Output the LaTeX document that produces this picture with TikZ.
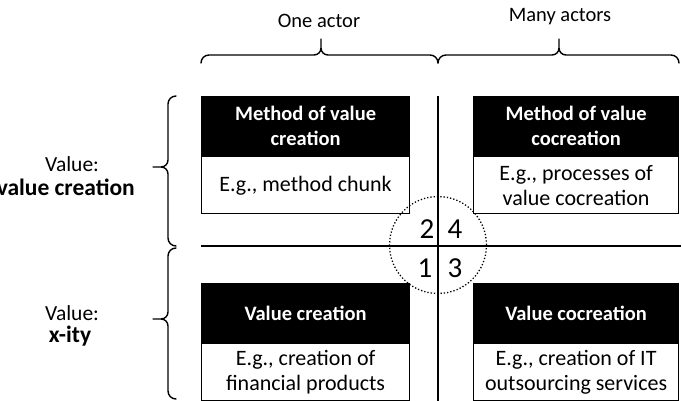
\documentclass[tikz,border=0pt]{standalone}
\usepackage{fontspec}
\setmainfont{Carlito}
\begin{document}
\begin{tikzpicture}[x=1pt,y=-1pt,
  hdr/.style={fill=black,draw=black,line width=1.2pt,text=white,font=\fontsize{20.5}{24.5}\selectfont\bfseries,align=center,inner sep=0pt,anchor=north west},
  bdy/.style={draw=black,line width=1.2pt,fill=white,font=\fontsize{22}{25.5}\selectfont,align=center,inner sep=0pt,anchor=north west},
  lbl/.style={font=\fontsize{20.5}{24}\selectfont,inner sep=0pt},
  side/.style={font=\fontsize{21.5}{24}\selectfont,inner sep=0pt},
  sidebold/.style={font=\fontsize{23.5}{26}\selectfont\bfseries,inner sep=0pt},
  num/.style={font=\fontsize{29}{31}\selectfont,inner sep=0pt},
  brc/.style={line width=1.4pt,line cap=round,line join=round},
  axis/.style={line width=1.8pt}]
\useasboundingbox (0,0) rectangle (682,401);
% top labels
\node[lbl] (one) at (319,21) {One actor};
\node[lbl] (many) at (560,17) {Many actors};
% top braces
\draw[brc] (201,63) to[out=90,in=180] (209,55) -- (314,55) to[out=0,in=-90] (321,48) -- (321,39)
  -- (321,48) to[out=-90,in=180] (328,55) -- (430,55) to[out=0,in=90] (438,63);
\draw[brc] (438,63) to[out=90,in=180] (446,55) -- (552,55) to[out=0,in=-90] (559,48) -- (559,39)
  -- (559,48) to[out=-90,in=180] (566,55) -- (671,55) to[out=0,in=90] (679,63);
% left braces
\draw[brc] (176,96) to[out=180,in=90] (168,104) -- (168,160) to[out=-90,in=0] (161,167) -- (153,167)
  -- (161,167) to[out=0,in=90] (168,174) -- (168,238) to[out=-90,in=180] (176,246);
\draw[brc] (176,248) to[out=180,in=90] (168,256) -- (168,312) to[out=-90,in=0] (161,319) -- (153,319)
  -- (161,319) to[out=0,in=90] (168,326) -- (168,391) to[out=-90,in=180] (176,399);
% left labels
\node[side] (v1) at (72,164) {Value:};
\node[sidebold,anchor=east] (v2) at (135,187) {value creation};
\node[side] (v3) at (72,313) {Value:};
\node[sidebold] (v4) at (70,336) {x-ity};
% axes
\coordinate (vt) at (438,96);
\coordinate (vb) at (438,401);
\coordinate (hl) at (201,246);
\coordinate (hr) at (681,246);
% boxes
\node[hdr,minimum width=208pt,minimum height=59pt] (h1) at (201,96) {Method of value\\creation};
\node[bdy,minimum width=208pt,minimum height=57pt] (t1) at (h1.south west) {E.g., method chunk};
\node[hdr,minimum width=205pt,minimum height=59pt] (h2) at (473,96) {Method of value\\cocreation};
\node[bdy,minimum width=205pt,minimum height=57pt] (t2) at (h2.south west) {E.g., processes of\\value cocreation};
\node[hdr,minimum width=208pt,minimum height=59pt] (h3) at (201,283) {Value creation};
\node[bdy,minimum width=208pt,minimum height=57pt] (t3) at (h3.south west) {E.g., creation of\\financial products};
\node[hdr,minimum width=205pt,minimum height=59pt] (h4) at (473,283) {Value cocreation};
\node[bdy,minimum width=205pt,minimum height=57pt] (t4) at (h4.south west) {E.g., creation of IT\\outsourcing services};
\draw[axis] (vt) -- (vb);
\draw[axis] (hl) -- (hr);
% circle
\node[draw,circle,dotted,line width=1.3pt,minimum size=97pt,inner sep=0pt] (circ) at (438,245) {};
\node[num] (n2) at (427,229) {2};
\node[num] (n4) at (455,229) {4};
\node[num] (n1) at (425,268) {1};
\node[num] (n3) at (455,268) {3};
\end{tikzpicture}
\end{document}
